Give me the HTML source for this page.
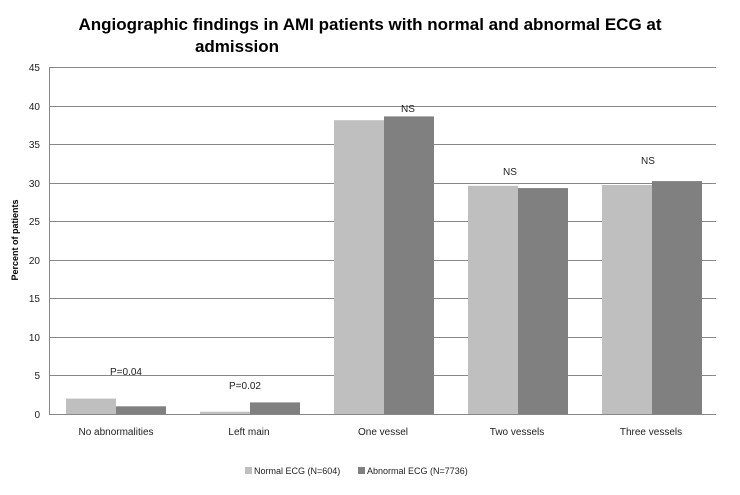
<!DOCTYPE html>
<html><head><style>body{margin:0;background:#fff}</style></head><body>
<svg width="740" height="490" xmlns="http://www.w3.org/2000/svg" font-family="Liberation Sans, DejaVu Sans, sans-serif">
<rect width="740" height="490" fill="#fff"/>
<text x="370" y="30" text-anchor="middle" font-size="17" font-weight="bold">Angiographic findings in AMI patients with normal and abnormal ECG at</text>
<text x="237" y="52" text-anchor="middle" font-size="17" font-weight="bold">admission</text>
<g stroke="#888" stroke-width="1">
<line x1="49" y1="67.5" x2="716" y2="67.5"/><line x1="49" y1="106.5" x2="716" y2="106.5"/>
<line x1="49" y1="144.5" x2="716" y2="144.5"/><line x1="49" y1="183.5" x2="716" y2="183.5"/>
<line x1="49" y1="221.5" x2="716" y2="221.5"/><line x1="49" y1="260.5" x2="716" y2="260.5"/>
<line x1="49" y1="298.5" x2="716" y2="298.5"/><line x1="49" y1="337.5" x2="716" y2="337.5"/>
<line x1="49" y1="375.5" x2="716" y2="375.5"/>
</g>
<g font-size="10" text-anchor="end" fill="#222">
<text x="40" y="71">45</text><text x="40" y="110">40</text><text x="40" y="148">35</text><text x="40" y="187">30</text><text x="40" y="225">25</text><text x="40" y="264">20</text><text x="40" y="302">15</text><text x="40" y="341">10</text><text x="40" y="379">5</text><text x="40" y="418">0</text>
</g>
<g fill="#bfbfbf">
<rect x="66" y="398.6" width="50" height="15.4"/><rect x="200" y="411.7" width="50" height="2.3"/>
<rect x="334" y="120.2" width="50" height="293.8"/><rect x="468" y="185.8" width="50" height="228.2"/>
<rect x="602" y="185" width="50" height="229"/>
</g>
<g fill="#808080">
<rect x="116" y="406.3" width="50" height="7.7"/><rect x="250" y="402.4" width="50" height="11.6"/>
<rect x="384" y="116.4" width="50" height="297.6"/><rect x="518" y="188.1" width="50" height="225.9"/>
<rect x="652" y="181.1" width="50" height="232.9"/>
</g>
<line x1="49.5" y1="67" x2="49.5" y2="414" stroke="#888"/>
<line x1="49" y1="414.5" x2="716" y2="414.5" stroke="#888"/>
<g font-size="10" text-anchor="middle" fill="#222">
<text x="126" y="375">P=0.04</text><text x="245" y="389">P=0.02</text>
<text x="408" y="112">NS</text><text x="510" y="175">NS</text><text x="648" y="164">NS</text>
<text x="116" y="435">No abnormalities</text><text x="249" y="435">Left main</text>
<text x="383" y="435">One vessel</text><text x="517" y="435">Two vessels</text><text x="651" y="435">Three vessels</text>
</g>
<text transform="translate(18,240) rotate(-90)" font-size="9" font-weight="bold" text-anchor="middle">Percent of patients</text>
<rect x="245" y="467" width="7" height="7" fill="#bfbfbf"/>
<text x="254" y="474" font-size="9" fill="#222">Normal ECG (N=604)</text>
<rect x="358" y="467" width="7" height="7" fill="#808080"/>
<text x="367" y="474" font-size="9" fill="#222">Abnormal ECG (N=7736)</text>
</svg>
</body></html>
